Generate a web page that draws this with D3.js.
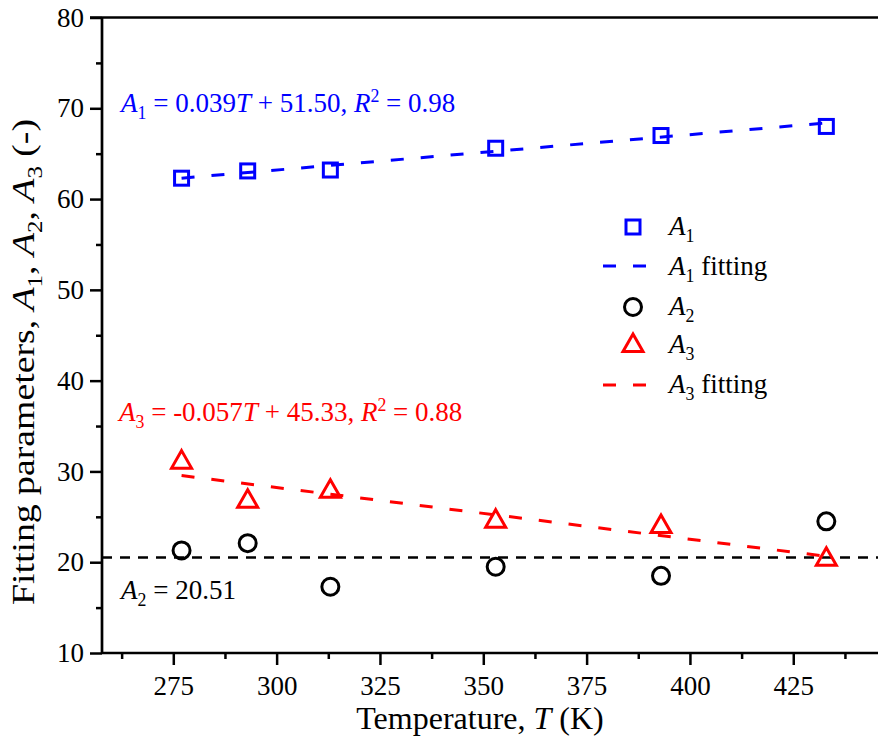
<!DOCTYPE html>
<html>
<head>
<meta charset="utf-8">
<script src="https://cdn.jsdelivr.net/npm/d3@7"></script>
<style>
  html, body { margin: 0; padding: 0; background: #fff; }
  svg, svg text, svg tspan { font-family: "Liberation Serif", "Times New Roman", serif !important; }
  svg { display: block; }
</style>
</head>
<body>
<svg id="chart" width="878" height="744"></svg>
<script>
// ---------------- data ----------------
const temperatures = [277, 293, 313, 353, 393, 433];
const A1 = [62.3, 63.1, 63.2, 65.6, 67.0, 68.0];
const A2 = [21.3, 22.1, 17.3, 19.5, 18.5, 24.5];
const A3 = [31.3, 27.0, 28.1, 24.8, 24.2, 20.6];
const fitA1 = [0.039, 51.50];   // slope, intercept
const fitA3 = [-0.057, 45.33];  // slope, intercept
const meanA2 = 20.51;
const xTicks = [275, 300, 325, 350, 375, 400, 425];
const xMinorTicks = [262.5, 287.5, 312.5, 337.5, 362.5, 387.5, 412.5, 437.5];
const yTicks = [10, 20, 30, 40, 50, 60, 70, 80];
const yMinorTicks = [15, 25, 35, 45, 55, 65, 75];

// ---------------- layout ----------------
const svg = d3.select("#chart");
const pLeft = 102, pRight = 878, pTop = 17.5, pBottom = 653;
const x = d3.scaleLinear().domain([257.75, 445.5]).range([pLeft, pRight]);
const y = d3.scaleLinear().domain([10, 80]).range([pBottom, pTop]);
const FONT = 27;
const BLUE = "#0000ff", RED = "#ff0000", BLACK = "#000000";

// rich text helper
function rich(sel, parts, size) {
  let shift = 0;
  parts.forEach(p => {
    const ts = sel.append("tspan").text(p.t);
    let target = 0, fs = size;
    if (p.sub) { target = size * 0.26; fs = size * 0.66; }
    if (p.sup) { target = -size * 0.38; fs = size * 0.66; }
    ts.attr("font-size", fs);
    if (target !== shift) { ts.attr("dy", target - shift); shift = target; }
    if (p.i) ts.attr("font-style", "italic");
  });
}

// ---------------- axes ----------------
const gx = svg.append("g").attr("transform", `translate(0,${pBottom})`);
gx.call(d3.axisBottom(x).tickValues(xTicks).tickSize(12).tickSizeOuter(0).tickPadding(11).tickFormat(d3.format("d")));
gx.append("g").call(d3.axisBottom(x).tickValues(xMinorTicks).tickSize(6).tickSizeOuter(0).tickFormat(""));
const gy = svg.append("g").attr("transform", `translate(${pLeft},0)`);
gy.call(d3.axisLeft(y).tickValues(yTicks).tickSize(12).tickSizeOuter(0).tickPadding(6).tickFormat(d3.format("d")));
gy.append("g").call(d3.axisLeft(y).tickValues(yMinorTicks).tickSize(6).tickSizeOuter(0).tickFormat(""));
svg.selectAll(".domain").remove();
svg.selectAll("g").attr("font-family", "Liberation Serif");
svg.selectAll(".tick line").attr("stroke", BLACK).attr("stroke-width", 2.5);
svg.selectAll(".tick text")
  .style("font-family", "'Liberation Serif', serif")
  .attr("font-size", FONT).attr("fill", BLACK);

// axis frame lines
svg.append("line").attr("x1", pLeft).attr("x2", pRight).attr("y1", pBottom).attr("y2", pBottom)
  .attr("stroke", BLACK).attr("stroke-width", 2.7);
svg.append("line").attr("x1", pLeft).attr("x2", pLeft).attr("y1", pTop).attr("y2", pBottom)
  .attr("stroke", BLACK).attr("stroke-width", 2.7);
svg.append("line").attr("x1", pLeft - 12).attr("x2", pRight).attr("y1", pTop).attr("y2", pTop)
  .attr("stroke", BLACK).attr("stroke-width", 2.7);

// axis titles
const xt = svg.append("text").attr("x", (pLeft + pRight) / 2 - 10).attr("y", 729)
  .attr("text-anchor", "middle").attr("font-size", 32).attr("fill", BLACK);
rich(xt, [{t: "Temperature, "}, {t: "T", i: true}, {t: " (K)"}], 32);

const yt = svg.append("text").attr("transform", "translate(34,362) rotate(-90) scale(1.18,1)")
  .attr("text-anchor", "middle").attr("font-size", 32).attr("fill", BLACK);
rich(yt, [{t: "Fitting parameters, "}, {t: "A", i: true}, {t: "1", sub: true}, {t: ", "},
  {t: "A", i: true}, {t: "2", sub: true}, {t: ", "}, {t: "A", i: true}, {t: "3", sub: true}, {t: " (-)"}], 32);

// ---------------- fit lines ----------------
const tMin = d3.min(temperatures), tMax = d3.max(temperatures);
const lineGen = d3.line().x(d => x(d[0])).y(d => y(d[1]));

svg.append("path")
  .attr("d", lineGen([[257.75, meanA2], [445.5, meanA2]]))
  .attr("stroke", BLACK).attr("stroke-width", 2.5).attr("stroke-dasharray", "10,8").attr("fill", "none");

svg.append("path")
  .attr("d", lineGen([tMin, tMax].map(t => [t, fitA1[0] * t + fitA1[1]])))
  .attr("stroke", BLUE).attr("stroke-width", 3).attr("stroke-dasharray", "13,17").attr("fill", "none");

svg.append("path")
  .attr("d", lineGen([tMin, tMax].map(t => [t, fitA3[0] * t + fitA3[1]])))
  .attr("stroke", RED).attr("stroke-width", 3).attr("stroke-dasharray", "13,17").attr("fill", "none");

// ---------------- markers ----------------
const sq = 14, cr = 8.5;
const triPath = "M0,-9 L10,8.5 L-10,8.5 Z";

svg.append("g").selectAll("rect").data(temperatures.map((t, i) => [t, A1[i]])).join("rect")
  .attr("x", d => x(d[0]) - sq / 2).attr("y", d => y(d[1]) - sq / 2)
  .attr("width", sq).attr("height", sq)
  .attr("fill", "none").attr("stroke", BLUE).attr("stroke-width", 3);

svg.append("g").selectAll("circle").data(temperatures.map((t, i) => [t, A2[i]])).join("circle")
  .attr("cx", d => x(d[0])).attr("cy", d => y(d[1])).attr("r", cr)
  .attr("fill", "none").attr("stroke", BLACK).attr("stroke-width", 3);

svg.append("g").selectAll("path").data(temperatures.map((t, i) => [t, A3[i]])).join("path")
  .attr("transform", d => `translate(${x(d[0])},${y(d[1])})`)
  .attr("d", triPath)
  .attr("fill", "none").attr("stroke", RED).attr("stroke-width", 3).attr("stroke-linejoin", "miter");

// ---------------- annotations ----------------
const ann1 = svg.append("text").attr("x", 121).attr("y", 112).attr("font-size", FONT).attr("fill", BLUE);
rich(ann1, [{t: "A", i: true}, {t: "1", sub: true}, {t: " = 0.039"}, {t: "T", i: true}, {t: " + 51.50, "},
  {t: "R", i: true}, {t: "2", sup: true}, {t: " = 0.98"}], FONT);

const ann3 = svg.append("text").attr("x", 119).attr("y", 421).attr("font-size", FONT).attr("fill", RED);
rich(ann3, [{t: "A", i: true}, {t: "3", sub: true}, {t: " = -0.057"}, {t: "T", i: true}, {t: " + 45.33, "},
  {t: "R", i: true}, {t: "2", sup: true}, {t: " = 0.88"}], FONT);

const ann2 = svg.append("text").attr("x", 121).attr("y", 599).attr("font-size", FONT).attr("fill", BLACK);
rich(ann2, [{t: "A", i: true}, {t: "2", sub: true}, {t: " = 20.51"}], FONT);

// ---------------- legend ----------------
const lgX = 633, lgText = 669;
const lg = svg.append("g");
// A1
lg.append("rect").attr("x", lgX - sq / 2).attr("y", 227 - sq / 2).attr("width", sq).attr("height", sq)
  .attr("fill", "none").attr("stroke", BLUE).attr("stroke-width", 3);
rich(lg.append("text").attr("x", lgText).attr("y", 235).attr("font-size", FONT),
  [{t: "A", i: true}, {t: "1", sub: true}], FONT);
// A1 fitting
lg.append("line").attr("x1", 603).attr("x2", 647).attr("y1", 266).attr("y2", 266)
  .attr("stroke", BLUE).attr("stroke-width", 3).attr("stroke-dasharray", "13,17");
rich(lg.append("text").attr("x", lgText).attr("y", 275).attr("font-size", FONT),
  [{t: "A", i: true}, {t: "1", sub: true}, {t: " fitting"}], FONT);
// A2
lg.append("circle").attr("cx", lgX).attr("cy", 307).attr("r", cr)
  .attr("fill", "none").attr("stroke", BLACK).attr("stroke-width", 3);
rich(lg.append("text").attr("x", lgText).attr("y", 315).attr("font-size", FONT),
  [{t: "A", i: true}, {t: "2", sub: true}], FONT);
// A3
lg.append("path").attr("transform", `translate(${lgX},343)`).attr("d", triPath)
  .attr("fill", "none").attr("stroke", RED).attr("stroke-width", 3);
rich(lg.append("text").attr("x", lgText).attr("y", 353).attr("font-size", FONT),
  [{t: "A", i: true}, {t: "3", sub: true}], FONT);
// A3 fitting
lg.append("line").attr("x1", 603).attr("x2", 647).attr("y1", 385).attr("y2", 385)
  .attr("stroke", RED).attr("stroke-width", 3).attr("stroke-dasharray", "13,17");
rich(lg.append("text").attr("x", lgText).attr("y", 393).attr("font-size", FONT),
  [{t: "A", i: true}, {t: "3", sub: true}, {t: " fitting"}], FONT);
</script>
</body>
</html>
